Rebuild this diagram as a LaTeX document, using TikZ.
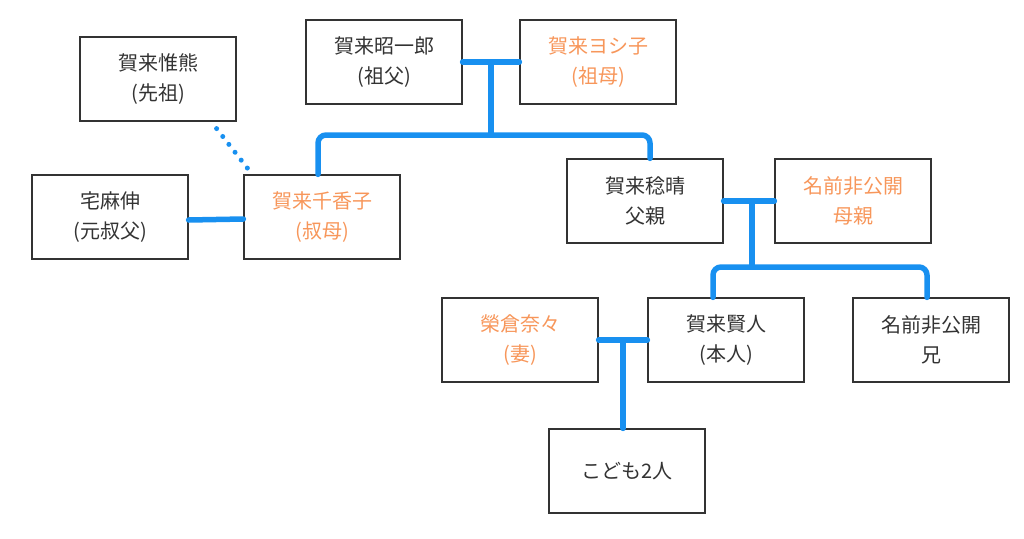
\documentclass[tikz,border=0pt]{standalone}
\usepackage{fontspec}
\setmainfont{Noto Sans CJK JP}
\usetikzlibrary{positioning,calc}
\definecolor{lineblue}{RGB}{24,144,240}
\definecolor{herorange}{RGB}{247,150,90}
\definecolor{inkgray}{RGB}{51,51,51}
\tikzset{
  person/.style = {draw=inkgray, line width=1.2pt, rectangle, align=center,
  minimum width=156pt, minimum height=84pt, inner sep=0pt,
  font=\fontsize{20}{30}\selectfont, text=inkgray},
  spouse/.style = {person, text=herorange},
  tie/.style    = {draw=lineblue, line width=5.5pt, line cap=round, line join=round},
  kin/.style    = {tie, rounded corners=8pt},
  lost/.style   = {draw=lineblue, line width=5pt, line cap=round,
  dash pattern=on 0pt off 10pt}
}

\begin{document}
\begin{tikzpicture}[x=1pt, y=-1pt]
\useasboundingbox (0,0) rectangle (1024,538);

% grandparents and the ancestor
    \node[person] (senso) at (158,79) {賀来惟熊\\(先祖)};
    \node[person] (sofu) at (384,62) {賀来昭一郎\\(祖父)};
    \node[spouse] (sobo) at (598,62) {賀来ヨシ子\\(祖母)};

% second generation
    \begin{scope}[every node/.style={person}]
      \node (oji) at (110,217) {宅麻伸\\(元叔父)};
      \node (chichi) at (645,201) {賀来稔晴\\父親};
    \end{scope}
    \node[spouse] (oba) at (322,217) {賀来千香子\\(叔母)};
    \node[spouse] (haha) at (853,201) {名前非公開\\母親};

% third generation
    \node[spouse] (tsuma) at (520,340) {榮倉奈々\\(妻)};
    \node[person] (honnin) at (726,340) {賀来賢人\\(本人)};
    \node[person] (ani) at (931,340) {名前非公開\\兄};
    \node[person] (kodomo) at (627,471) {こども2人};

% marriages and children
    \draw[tie] (sofu.east) -- coordinate (j1) (sobo.west);
    \coordinate (bar1) at (j1 |- 0,135);
    \draw[tie] (j1) -- (bar1);
    \draw[kin] ([xshift=-4pt]oba.north) |- (bar1) -| ([xshift=5pt]chichi.north);

    \draw[tie] ([yshift=-3pt]oji.east) -- ([yshift=-2pt]oba.west);
    \draw[lost] ($(senso.south east)+(-20,7)$) -- ($(oba.north west)+(5,-5)$);

    \draw[tie] (chichi.east) -- coordinate (j2) (haha.west);
    \coordinate (bar2) at ([xshift=3pt]j2 |- 0,267);
    \draw[tie] ([xshift=3pt]j2) -- (bar2);
    \draw[kin] ([xshift=-13pt]honnin.north) |- (bar2) -| ([xshift=-4pt]ani.north);

    \draw[tie] (tsuma.east) -- coordinate (j3) (honnin.west);
    \draw[tie] (j3) -- (j3 |- kodomo.north);
\end{tikzpicture}
\end{document}
